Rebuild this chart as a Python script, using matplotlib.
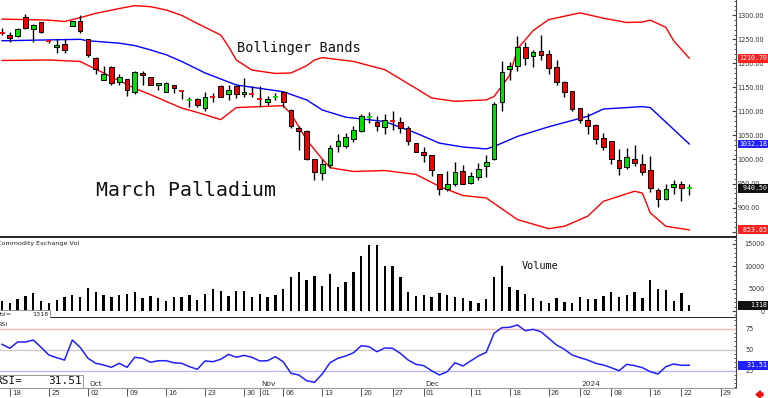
import numpy as np
import matplotlib
matplotlib.use("Agg")
import matplotlib.pyplot as plt
from matplotlib.patches import Rectangle, FancyArrow
from matplotlib.transforms import blended_transform_factory
from matplotlib.ticker import MultipleLocator

# daily bars, March palladium, 15 Sep 2023 .. 23 Jan 2024
opens = [1263, 1260, 1256, 1296, 1272, 1285, 1246, 1234, 1240, 1278,
         1288, 1250, 1211, 1166, 1193, 1161, 1168, 1140, 1180, 1171,
         1154, 1141, 1155, 1143.5, 1123.5, 1126, 1108, 1130.5, 1153, 1136,
         1153, 1136, 1137, 1126, 1119, 1130, 1140, 1103, 1066, 1060,
         1000, 972, 989, 1029, 1029, 1042, 1060, 1087.5, 1079, 1068,
         1081.5, 1079, 1066, 1034, 1015, 1009, 969, 939, 948, 977,
         951, 963, 986, 1000, 1119, 1188, 1195, 1234, 1216, 1226,
         1219, 1192, 1162, 1142, 1107, 1083, 1072, 1045, 1038, 998,
         984, 1001, 991, 979, 937, 918, 943, 950, 940]
highs = [1273, 1265, 1273, 1303, 1281, 1287, 1247, 1250, 1250, 1289,
         1300, 1251, 1213, 1194, 1194, 1178, 1168, 1185, 1185, 1172,
         1160, 1162, 1156, 1144, 1129, 1127, 1140, 1138, 1154, 1155,
         1155, 1169, 1153, 1153, 1132, 1138, 1141, 1106, 1069, 1062,
         1001, 1000, 1030, 1054, 1055, 1069, 1095, 1099, 1091, 1094,
         1100, 1088, 1070, 1035, 1026, 1010, 970, 977, 994, 989,
         975, 992, 1010, 1120, 1204, 1202, 1256, 1244, 1227, 1259,
         1227, 1206, 1163, 1142, 1108, 1097, 1074, 1055, 1038, 1021,
         1023, 1031, 1012, 1008, 941, 948, 958, 955, 948]
lows = [1259, 1245, 1254, 1272, 1244, 1263, 1243, 1221, 1221, 1277,
        1264, 1213, 1177, 1165, 1154, 1154, 1132, 1136, 1156, 1154,
        1145, 1141, 1138, 1126, 1110, 1110, 1100, 1120, 1130, 1123,
        1128, 1129, 1130, 1110, 1114, 1124, 1110, 1066, 1019, 998,
        958, 958, 982, 1016, 1024, 1037, 1058, 1075, 1060, 1054,
        1062, 1055, 1030, 1015, 995, 966, 926, 935, 945, 948,
        948, 958, 963, 999, 1101, 1166, 1185, 1197, 1193, 1206,
        1178, 1156, 1131, 1100, 1076, 1054, 1033, 1020, 990, 967,
        980, 986, 967, 932, 902, 915, 929, 913, 927]
closes = [1262, 1253, 1272, 1273, 1280, 1265, 1245, 1238, 1228, 1288,
          1267, 1218, 1188, 1178, 1159, 1172, 1145, 1181, 1175, 1154,
          1159, 1159, 1148, 1142.5, 1124.5, 1114, 1131, 1129.5, 1131, 1145,
          1137, 1141, 1136, 1125, 1126, 1131, 1119, 1069, 1060, 1000,
          973, 991, 1024, 1039, 1047, 1062, 1090, 1088.5, 1069, 1083,
          1080.5, 1065, 1039, 1015, 1009, 979, 939, 948, 973, 948,
          965, 980, 995, 1116, 1183, 1195, 1235, 1211, 1224, 1218,
          1190, 1162, 1140, 1105, 1083, 1070, 1043, 1027, 1000, 982,
          1005, 993, 975, 941, 918, 939, 950, 941, 940.5]

volume = [2300, 1860, 2690, 3360, 3960, 2170, 1860, 2460, 3210, 3580,
          3210, 5230, 4330, 3580, 3060, 3580, 3800, 4330, 2990, 3360,
          2840, 2300, 3060, 3060, 3580, 2460, 3730, 4860, 4480, 3360,
          4550, 4410, 3210, 3730, 3210, 3580, 5000, 7550, 8740, 6940,
          7840, 5600, 8290, 5450, 6570, 8800, 12320, 14780, 14780, 10150,
          10080, 7680, 4330, 3360, 3580, 3210, 3960, 3510, 3060, 2910,
          2300, 1860, 2690, 7550, 10080, 5300, 4700, 3800, 2840, 2300,
          1720, 2990, 2020, 1720, 3210, 2690, 2690, 3360, 4330, 3210,
          3580, 4180, 2910, 6940, 4930, 4700, 2300, 3960, 1318]

rsi = [56.4, 51.7, 59.2, 59.2, 61.5, 52.9, 43.7, 40.5, 37.7, 61.5,
       52.9, 39.8, 33.8, 31.8, 29.0, 33.8, 29.0, 41.0, 39.8, 35.0,
       36.9, 36.9, 34.5, 33.8, 29.8, 26.7, 36.6, 35.7, 38.6, 44.5,
       41.0, 43.3, 41.0, 36.6, 36.9, 41.7, 35.7, 21.9, 19.9, 13.1,
       11.2, 21.1, 34.5, 39.8, 42.5, 46.4, 54.8, 53.6, 47.6, 52.0,
       51.7, 45.7, 37.7, 32.6, 31.0, 25.0, 19.9, 23.8, 34.5, 30.6,
       36.6, 42.5, 46.9, 69.5, 76.2, 76.7, 79.4, 72.6, 74.3, 71.4,
       63.6, 55.6, 50.5, 43.7, 40.5, 37.7, 33.8, 31.8, 28.6, 25.0,
       32.6, 31.0, 28.6, 23.8, 21.1, 29.8, 33.0, 31.4, 31.51]

# bollinger bands (bar number, price)
upper_bar = [0, 6, 8, 10, 12, 15, 17, 19, 21, 23, 25, 28, 29, 30, 32, 35, 37, 39, 40,
             41, 45, 49, 53, 55, 58, 62, 63, 65, 66, 68, 70, 74, 77, 80, 82, 83, 85, 86, 88]
upper_val = [1292, 1290, 1287, 1295, 1304, 1314, 1320, 1318, 1311, 1300, 1283, 1259, 1235,
             1207, 1186, 1179, 1180, 1195, 1207, 1212, 1204, 1187, 1148, 1128, 1121, 1124,
             1131, 1175, 1230, 1268, 1291, 1305, 1294, 1285, 1286, 1290, 1275, 1247, 1210.70]
mid_bar = [0, 10, 11, 15, 17, 19, 21, 23, 26, 30, 33, 36, 39, 41, 44, 49, 53, 56, 59,
           62, 63, 66, 70, 75, 77, 82, 83, 88]
mid_val = [1247, 1250, 1247, 1242, 1237, 1228, 1218, 1204, 1180, 1155, 1148, 1141, 1124,
           1103, 1088, 1079, 1055, 1034, 1026, 1022, 1027, 1048, 1068, 1090, 1105, 1110,
           1108, 1032.18]
lower_bar = [0, 6, 10, 12, 15, 17, 19, 21, 23, 25, 28, 30, 36, 37, 39, 41, 42, 45, 49,
             53, 56, 59, 62, 66, 70, 72, 75, 77, 81, 82, 83, 85, 88]
lower_val = [1206, 1207, 1204, 1188, 1164, 1148, 1135, 1121, 1107, 1098, 1083, 1108, 1112,
             1095, 1041, 1001, 983, 975, 977, 969, 944, 925, 920, 875, 856, 861, 882, 913,
             934, 930, 889, 861, 853.65]

day_ticks = [1, 6, 11, 16, 21, 26, 31, 33, 36, 41, 46, 50, 54, 60, 65, 70, 74, 78, 83, 87, 92]
day_labels = ["18", "25", "02", "09", "16", "23", "30", "01", "06", "13", "20",
              "27", "01", "11", "18", "26", "02", "08", "16", "22", "29"]
month_ticks = [11, 33, 54, 74]
month_labels = ["Oct", "Nov", "Dec", "2024"]

RED = "#f00000"
GREEN = "#00e000"
MONO = "DejaVu Sans Mono"

W, H = 768, 398
fig = plt.figure(figsize=(W / 100, H / 100), dpi=100)


def panel(top, bottom):
    return fig.add_axes([0, 1 - bottom / H, 736 / W, (bottom - top) / H])


ax_p = panel(0, 237.5)
ax_v = panel(237.5, 318.3)
ax_r = panel(318.3, 388)

for ax in (ax_p, ax_v, ax_r):
    ax.set_xlim(-0.26, 93.98)
    ax.set_xticks([])
    ax.spines["left"].set_visible(False)
    ax.spines["top"].set_visible(False)
    ax.spines["right"].set_color("#444444")
    ax.spines["right"].set_linewidth(0.8)
    ax.yaxis.tick_right()
    ax.tick_params(axis="y", which="both", direction="in", colors="#444444",
                   labelcolor="#333333", labelsize=4.7)
    ax.tick_params(axis="y", which="major", length=3)
    ax.tick_params(axis="y", which="minor", length=1.5)

ax_p.spines["bottom"].set_linewidth(1.3)
ax_p.spines["bottom"].set_color("#111111")
ax_v.spines["bottom"].set_linewidth(1.3)
ax_v.spines["bottom"].set_color("#111111")
ax_r.spines["bottom"].set_color("#999999")
ax_r.spines["bottom"].set_linewidth(0.8)

# ---- price panel
ax_p.set_ylim(837.7, 1331.8)
ax_p.yaxis.set_major_locator(MultipleLocator(50))
ax_p.yaxis.set_minor_locator(MultipleLocator(10))
ax_p.yaxis.set_major_formatter(lambda v, p: f"{v:.2f}")
ax_p.tick_params(axis="y", pad=1.2)

ax_p.plot(upper_bar, upper_val, color="#ff0000", lw=1.0, zorder=2)
ax_p.plot(mid_bar, mid_val, color="#0000ff", lw=1.0, zorder=2)
ax_p.plot(lower_bar, lower_val, color="#ff0000", lw=1.0, zorder=2)

for i, (o, h, l, c) in enumerate(zip(opens, highs, lows, closes)):
    col = GREEN if c > o else RED
    ax_p.vlines(i, l, h, color="black", lw=1.0, zorder=3)
    if abs(c - o) < 2.5:
        ax_p.hlines((o + c) / 2, i - 0.32, i + 0.32, color=col, lw=1.3, zorder=4)
    else:
        ax_p.add_patch(Rectangle((i - 0.3, min(o, c)), 0.6, abs(c - o), facecolor=col,
                                 edgecolor="black", lw=0.7, zorder=4))

ax_p.text(0.322, 0.798, "Bollinger Bands", transform=ax_p.transAxes, fontsize=9.8,
          family=MONO, va="center", ha="left", color="#111111")
ax_p.text(0.1304, 0.196, "March Palladium", transform=ax_p.transAxes, fontsize=14.3,
          family=MONO, va="center", ha="left", color="#111111")

# ---- volume panel
ax_v.set_ylim(-1634, 16455)
ax_v.yaxis.set_major_locator(MultipleLocator(5000))
ax_v.yaxis.set_minor_locator(MultipleLocator(1000))
ax_v.yaxis.set_major_formatter(lambda v, p: f"{v:.0f}")
ax_v.tick_params(axis="y", pad=20.5)
for t in ax_v.get_yticklabels():
    t.set_horizontalalignment("right")
ax_v.bar(range(len(volume)), volume, width=0.3, color="black")
ax_v.text(0.709, 0.651, "Volume", transform=ax_v.transAxes, fontsize=7.4,
          family=MONO, va="center", ha="left", color="#111111")
ax_v.text(-0.004, 0.93, "Commodity Exchange Vol", transform=ax_v.transAxes,
          fontsize=4.6, va="center", ha="left", color="#222222")
ax_v.add_patch(Rectangle((-0.01, 0.0), 50 / 736 + 0.01, 0.103, transform=ax_v.transAxes,
                         facecolor="white", edgecolor="#888888", lw=0.6, zorder=5))
ax_v.text(-0.004, 0.05, "Vol=", transform=ax_v.transAxes, fontsize=4.6,
          va="center", ha="left", color="#222222", zorder=6)
ax_v.text(48 / 736, 0.05, f"{volume[-1]}", transform=ax_v.transAxes, fontsize=4.6,
          va="center", ha="right", color="#222222", zorder=6)

# ---- rsi panel
ax_r.set_ylim(4.4, 87.4)
ax_r.yaxis.set_minor_locator(MultipleLocator(5))
ax_r.set_yticks([25, 50, 75])
ax_r.tick_params(axis="y", pad=6.5)
ax_r.axhline(75, color="#ffb4b4", lw=0.9)
ax_r.axhline(50, color="#c8c8c8", lw=0.9)
ax_r.axhline(25, color="#b4b4ff", lw=0.9)
ax_r.plot(range(len(rsi)), rsi, color="#2020ff", lw=1.1)
ax_r.text(-0.004, 0.91, "RSI", transform=ax_r.transAxes, fontsize=4.6,
          va="center", ha="left", color="#222222")
ax_r.add_patch(Rectangle((-0.01, 0.0), 83 / 736 + 0.01, 0.19, transform=ax_r.transAxes,
                         facecolor="white", edgecolor="#888888", lw=0.6, zorder=5))
ax_r.text(-0.006, 0.095, "RSI=", transform=ax_r.transAxes, fontsize=8, family=MONO,
          va="center", ha="left", color="#111111", zorder=6)
ax_r.text(82 / 736, 0.095, f"{rsi[-1]:.2f}", transform=ax_r.transAxes, fontsize=8,
          family=MONO, va="center", ha="right", color="#111111", zorder=6)

# date axis under rsi panel
ax_r.set_xticks(day_ticks)
ax_r.tick_params(axis="x", direction="out", length=6, width=0.7, color="#555555",
                 labelbottom=False)
bt = blended_transform_factory(ax_r.transData, ax_r.transAxes)
for pos, lab in zip(day_ticks, day_labels):
    ax_r.annotate(lab, xy=(pos, 0), xycoords=bt, xytext=(1.6, -1.6),
                  textcoords="offset points", ha="left", va="top", fontsize=5,
                  family="DejaVu Sans", color="#333333", annotation_clip=False)
for pos, lab in zip(month_ticks, month_labels):
    ax_r.annotate(lab, xy=(pos, 0), xycoords=bt, xytext=(1.0, 0.6),
                  textcoords="offset points", ha="left", va="bottom", fontsize=5.3,
                  family="DejaVu Sans", color="#333333", annotation_clip=False)


# last-value boxes on the right axis
def value_box(ax, val, txt, color):
    tr = blended_transform_factory(ax.transAxes, ax.transData)
    ax.text(739 / 736, val, txt.rjust(7), transform=tr, fontsize=4.8, family=MONO,
            color="white", va="center", ha="left", zorder=10, clip_on=False,
            bbox=dict(boxstyle="square,pad=0.22", facecolor=color, edgecolor="none"))


value_box(ax_p, upper_val[-1], f"{upper_val[-1]:.2f}", "#ff2020")
value_box(ax_p, mid_val[-1], f"{mid_val[-1]:.2f}", "#2020ff")
value_box(ax_p, closes[-1], f"{closes[-1]:.2f}", "#111111")
value_box(ax_p, lower_val[-1], f"{lower_val[-1]:.2f}", "#ff2020")
value_box(ax_v, volume[-1], f"{volume[-1]}", "#111111")
value_box(ax_r, rsi[-1], f"{rsi[-1]:.2f}", "#2020ff")

fig.patches.append(FancyArrow(7.63, 0.035, -0.07, 0, width=0.03, head_width=0.075,
                              head_length=0.045, length_includes_head=True,
                              color="#ee1111", transform=fig.dpi_scale_trans, figure=fig))

fig.savefig("out.png", dpi=100, facecolor="white")
